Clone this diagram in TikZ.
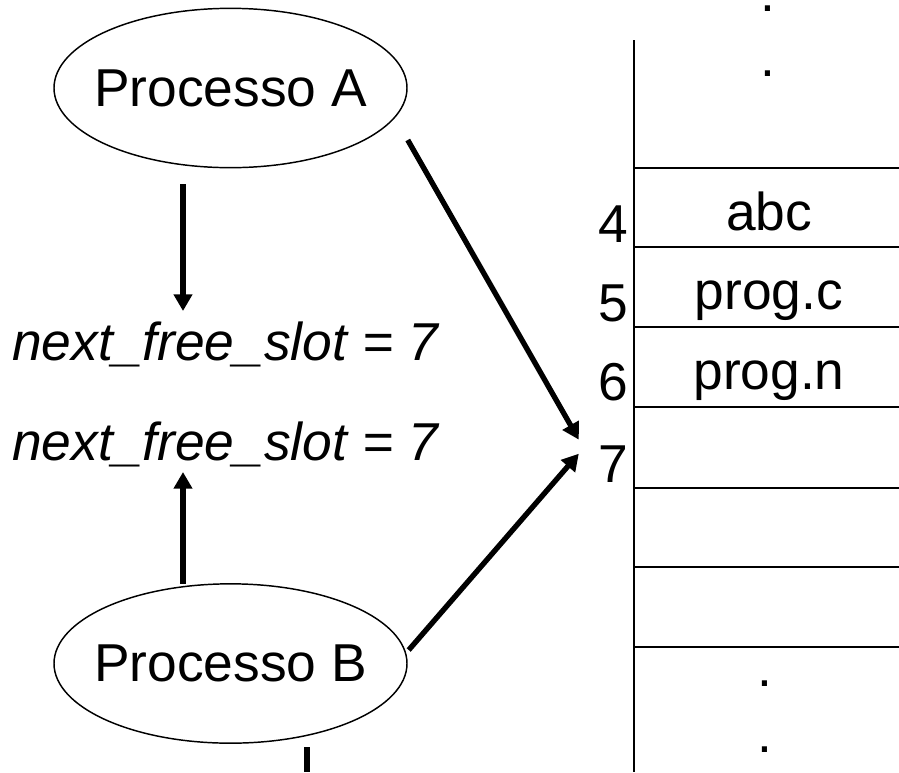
\documentclass[tikz,border=0pt]{standalone}
\usepackage{fontspec}
\setmainfont{Liberation Sans}
\usetikzlibrary{arrows.meta,calc,shapes.geometric}

\begin{document}
\begin{tikzpicture}[x=0.75pt,y=-0.75pt,
  big/.style={font=\fontsize{40}{48}\selectfont, inner sep=0pt},
  proc/.style={draw, line width=1.1pt, ellipse, inner xsep=-12pt, inner ysep=0pt,
    minimum width=264.75pt, minimum height=119.5pt,
    font=\fontsize{40}{48}\selectfont},
  varlabel/.style={font=\fontsize{40}{48}\selectfont\itshape, inner sep=0pt, anchor=base west},
  cell/.style={big, anchor=base},
  slotno/.style={big, anchor=base east},
  rule/.style={line width=1.5pt},
  flow/.style={line width=4pt, -{Triangle[width=13.5pt,length=12.5pt]}}]

\useasboundingbox (0,0) rectangle (899,772);

% processes
\node[proc] (pa) at (230.5,88) {Processo A};
\node[proc] (pb) at (230.5,663.5) {Processo B};

% shared variable as each process reads it
\node[varlabel] (n1) at (12,360) {next\_free\_slot = 7};
\node[varlabel] (n2) at (12,460) {next\_free\_slot = 7};

% directory table
\coordinate (ttop) at (634,40);
\coordinate (tbot) at (634,772);
\draw[rule] (ttop) -- (tbot);
\foreach \yy in {168,247,327,407,488,567,647}
  \draw[rule] (634,\yy) -- (899,\yy);

\node[cell] (d1) at (768,11) {.};
\node[cell] (d2) at (768,76) {.};
\node[cell] (c4) at (769,230) {abc};
\node[cell] (c5) at (769,309) {prog.c};
\node[cell] (c6) at (769,389) {prog.n};
\node[cell] (d3) at (765,686) {.};
\node[cell] (d4) at (765,752) {.};

\node[slotno] (s4) at (628,242) {4};
\node[slotno] (s5) at (628,321) {5};
\node[slotno] (s6) at (628,400) {6};
\node[slotno] (s7) at (628,482) {7};

% reads of the variable
\draw[flow] ($(pa.south)+(-47.5,16)$) -- ($(n1.base west)+(171,-49)$);
\draw[flow] ($(pb.north)+(-47.5,0.5)$) -- ($(n2.base west)+(171,12)$);

% both processes write into slot 7
\draw[flow] ($(pa.east)+(0,52)$) -- ($(s7.west)+(-19,-24)$);
\draw[flow] ($(pb.east)+(1,-13.5)$) -- ($(s7.west)+(-19,-10)$);

% next step of process B
\coordinate (bcut) at (307,772);
\draw[line width=4pt] ($(pb.south)+(76.5,3.5)$) -- (bcut);
\end{tikzpicture}
\end{document}
